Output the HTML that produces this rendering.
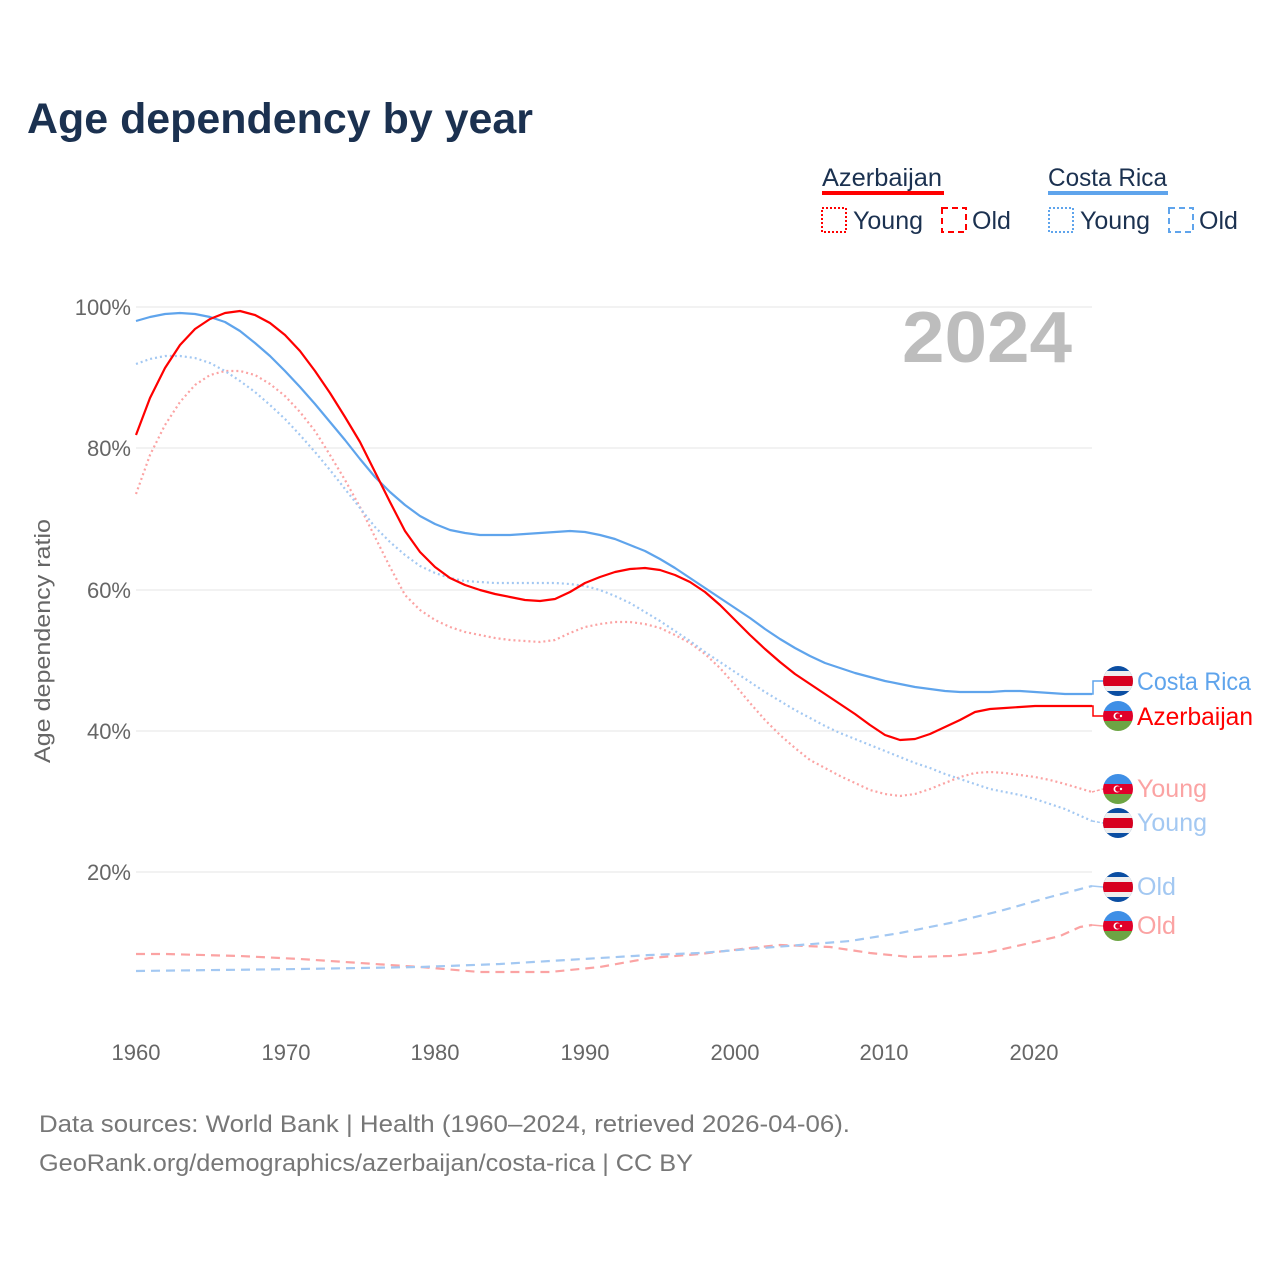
<!DOCTYPE html>
<html><head><meta charset="utf-8"><style>
body{margin:0;background:#fff;width:1280px;height:1280px;overflow:hidden;font-family:"Liberation Sans",sans-serif}
</style></head><body>
<svg width="1280" height="1280" xmlns="http://www.w3.org/2000/svg" font-family="Liberation Sans, sans-serif">
<defs>
<clipPath id="c"><circle cx="0" cy="0" r="15"/></clipPath>
<g id="cr" clip-path="url(#c)"><rect x="-15" y="-15" width="30" height="30" fill="#0b4ea2"/><rect x="-15" y="-10" width="30" height="20" fill="#eee"/><rect x="-15" y="-5" width="30" height="10" fill="#d7001f"/></g>
<g id="az" clip-path="url(#c)"><rect x="-15" y="-15" width="30" height="10" fill="#3f8fe6"/><rect x="-15" y="-5" width="30" height="10" fill="#e0002a"/><rect x="-15" y="5" width="30" height="10" fill="#6da544"/><circle cx="-1" cy="0" r="3.5" fill="#fff"/><circle cx="0" cy="0" r="2.8" fill="#e0002a"/><circle cx="3" cy="0" r="1.2" fill="#fff"/></g>
</defs>
<text x="27" y="133" font-size="43" font-weight="bold" fill="#1b3150" textLength="506" lengthAdjust="spacingAndGlyphs">Age dependency by year</text>
<text x="822" y="186" font-size="25" fill="#1b3150" textLength="120" lengthAdjust="spacingAndGlyphs">Azerbaijan</text>
<rect x="822" y="191" width="122" height="4" fill="#f00"/>
<text x="1048" y="186" font-size="25" fill="#1b3150" textLength="119" lengthAdjust="spacingAndGlyphs">Costa Rica</text>
<rect x="1048" y="191" width="120" height="4" fill="#5fa4ec"/>
<rect x="822" y="208" width="24" height="24" fill="none" stroke="#f00" stroke-width="2" stroke-dasharray="2,2"/>
<text x="853" y="229" font-size="25" fill="#1b3150">Young</text>
<rect x="942" y="208" width="24" height="24" fill="none" stroke="#f00" stroke-width="2" stroke-dasharray="6,4"/>
<text x="972" y="229" font-size="25" fill="#1b3150">Old</text>
<rect x="1049" y="208" width="24" height="24" fill="none" stroke="#5fa4ec" stroke-width="2" stroke-dasharray="2,2"/>
<text x="1080" y="229" font-size="25" fill="#1b3150">Young</text>
<rect x="1169" y="208" width="24" height="24" fill="none" stroke="#5fa4ec" stroke-width="2" stroke-dasharray="6,4"/>
<text x="1199" y="229" font-size="25" fill="#1b3150">Old</text>
<g stroke="#e6e6e6" stroke-width="1">
<line x1="136" x2="1092" y1="307" y2="307"/><line x1="136" x2="1092" y1="448" y2="448"/><line x1="136" x2="1092" y1="590" y2="590"/><line x1="136" x2="1092" y1="731" y2="731"/><line x1="136" x2="1092" y1="872" y2="872"/>
</g>
<g font-size="22" fill="#666" text-anchor="end">
<text x="131" y="315">100%</text><text x="131" y="456">80%</text><text x="131" y="598">60%</text><text x="131" y="739">40%</text><text x="131" y="880">20%</text>
</g>
<g font-size="22" fill="#666" text-anchor="middle">
<text x="136" y="1060">1960</text><text x="286" y="1060">1970</text><text x="435" y="1060">1980</text><text x="585" y="1060">1990</text><text x="735" y="1060">2000</text><text x="884" y="1060">2010</text><text x="1034" y="1060">2020</text>
</g>
<text transform="translate(50,641) rotate(-90)" font-size="22" fill="#666" text-anchor="middle" textLength="244" lengthAdjust="spacingAndGlyphs">Age dependency ratio</text>
<text x="1072" y="362" font-size="72" font-weight="bold" fill="#bdbdbd" text-anchor="end" textLength="170" lengthAdjust="spacingAndGlyphs">2024</text>
<g fill="none" stroke-width="2.2" stroke-linejoin="round">
<polyline stroke="#fba3a3" stroke-dasharray="9,6" points="136,954 165,954 240,956 300,959 360,963 420,967 480,972 550,972 600,967 650,958 700,954 750,948 780,945 830,947 870,953 910,957 950,956 990,952 1030,943 1060,936 1080,927 1092,925"/>
<polyline stroke="#a3c8f2" stroke-dasharray="9,6" points="136,971 300,969 420,967 500,964 550,961 600,958 650,955 700,953 750,949 800,945 850,941 900,933 950,923 1000,911 1050,897 1092,886"/>
<polyline stroke="#fba3a3" stroke-dasharray="2,3" points="136,494 150,455 165,425 180,402 195,385 210,375 225,371 240,371 255,375 270,384 285,396 300,412 315,431 330,455 345,480 360,507 375,537 390,567 405,595 420,610 435,620 450,627 465,632 480,635 495,638 510,640 525,641 540,642 555,640 570,633 585,627 600,624 615,622 630,622 645,624 660,628 675,635 690,643 705,654 720,668 735,685 750,703 765,720 780,735 795,748 810,760 825,768 840,776 855,783 870,790 885,794 900,796 915,794 930,789 945,783 960,777 975,773 990,772 1005,773 1020,775 1035,777 1050,780 1065,784 1092,792"/>
<polyline stroke="#a3c8f2" stroke-dasharray="2,3" points="136,364 150,359 165,356 180,356 195,358 210,363 225,371 240,381 255,392 270,405 285,419 300,435 315,452 330,470 345,489 360,508 375,527 390,542 405,555 420,566 435,573 450,578 465,581 480,582 495,583 510,583 525,583 540,583 555,583 570,584 585,586 600,590 615,596 630,603 645,612 660,621 675,631 690,641 705,652 720,662 735,672 750,682 765,692 780,701 795,710 810,718 825,726 840,733 855,739 870,745 885,751 900,757 915,763 930,768 945,774 960,779 975,784 990,789 1005,792 1020,795 1035,799 1050,804 1065,809 1092,821"/>
<polyline stroke="#5fa4ec" points="136,321 150,317 165,314 180,313 195,314 210,317 225,322 240,331 255,343 270,356 285,371 300,387 315,404 330,422 345,440 360,459 375,477 390,492 405,505 420,516 435,524 450,530 465,533 480,535 495,535 510,535 525,534 540,533 555,532 570,531 585,532 600,535 615,539 630,545 645,551 660,559 675,568 690,578 705,588 720,598 735,608 750,618 765,629 780,639 795,648 810,656 825,663 840,668 855,673 870,677 885,681 900,684 915,687 930,689 945,691 960,692 975,692 990,692 1005,691 1020,691 1035,692 1050,693 1065,694 1092,694"/>
<polyline stroke="#f00" points="136,435 150,398 165,368 180,345 195,329 210,319 225,313 240,311 255,315 270,323 285,335 300,351 315,371 330,393 345,417 360,442 375,472 390,502 405,531 420,552 435,567 450,578 465,585 480,590 495,594 510,597 525,600 540,601 555,599 570,592 585,583 600,577 615,572 630,569 645,568 660,570 675,575 690,582 705,592 720,605 735,620 750,635 765,649 780,662 795,674 810,684 825,694 840,704 855,714 870,725 885,735 900,740 915,739 930,734 945,727 960,720 975,712 990,709 1005,708 1020,707 1035,706 1050,706 1065,706 1092,706"/>
</g>
<g fill="none" stroke-width="1.5">
<polyline stroke="#5fa4ec" points="1092,694 1093,694 1093,681 1103,681"/>
<polyline stroke="#f00" points="1092,706 1093,706 1093,716 1103,716"/>
<polyline stroke="#fba3a3" stroke-dasharray="3,2" points="1092,792 1103,789"/>
<polyline stroke="#a3c8f2" stroke-dasharray="3,2" points="1092,821 1103,823"/>
<polyline stroke="#a3c8f2" points="1092,886 1103,887"/>
<polyline stroke="#fba3a3" points="1092,925 1103,926"/>
</g>
<use href="#cr" x="1118" y="681"/><use href="#az" x="1118" y="716"/><use href="#az" x="1118" y="789"/><use href="#cr" x="1118" y="823"/><use href="#cr" x="1118" y="887"/><use href="#az" x="1118" y="926"/>
<g font-size="25">
<text x="1137" y="690" fill="#5fa4ec" textLength="114" lengthAdjust="spacingAndGlyphs">Costa Rica</text>
<text x="1137" y="725" fill="#f00" textLength="116" lengthAdjust="spacingAndGlyphs">Azerbaijan</text>
<text x="1137" y="797" fill="#fba3a3">Young</text>
<text x="1137" y="831" fill="#a3c8f2">Young</text>
<text x="1137" y="895" fill="#a3c8f2">Old</text>
<text x="1137" y="934" fill="#fba3a3">Old</text>
</g>
<g font-size="24" fill="#777">
<text x="39" y="1132" textLength="811" lengthAdjust="spacingAndGlyphs">Data sources: World Bank | Health (1960–2024, retrieved 2026-04-06).</text>
<text x="39" y="1171" textLength="654" lengthAdjust="spacingAndGlyphs">GeoRank.org/demographics/azerbaijan/costa-rica | CC BY</text>
</g>
</svg>
</body></html>
